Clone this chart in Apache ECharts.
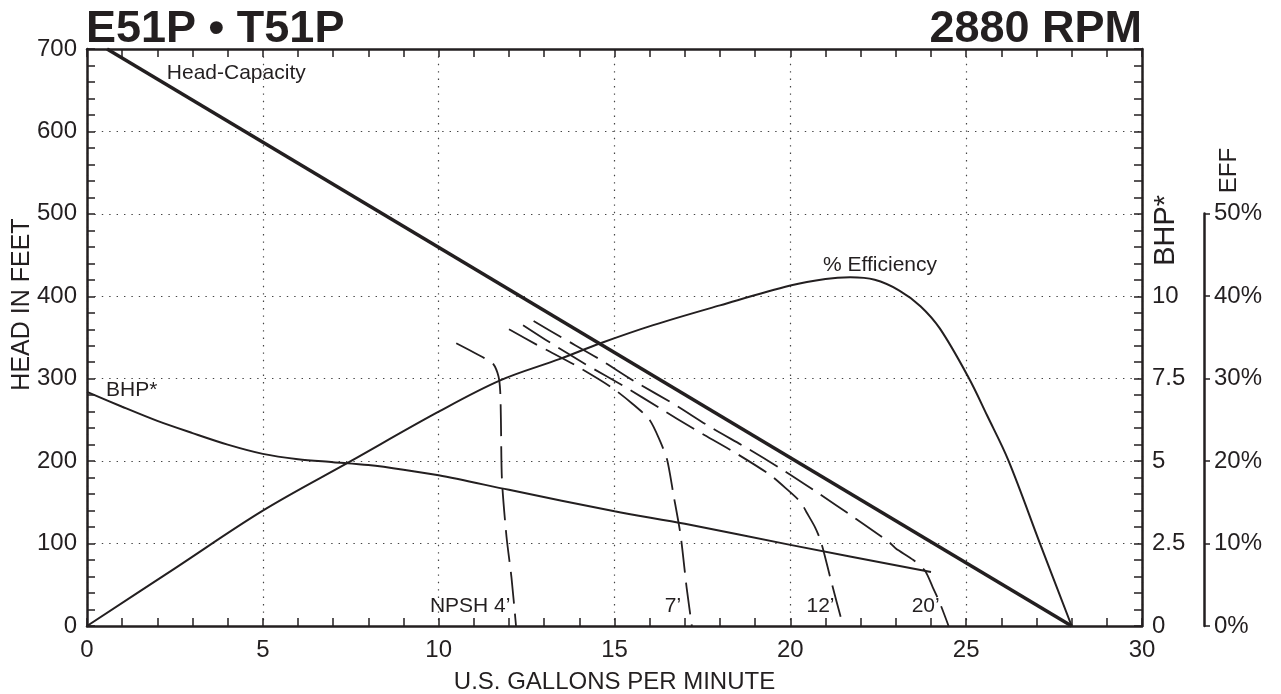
<!DOCTYPE html>
<html><head><meta charset="utf-8">
<script src="https://cdn.jsdelivr.net/npm/echarts@6/dist/echarts.min.js"></script>
<style>html,body{margin:0;padding:0;background:#fff}#c{width:1281px;height:694px}</style>
</head><body><div id="c"></div><script>
// ---- data ----
const titleLeft = 'E51P • T51P';
const titleRight = '2880 RPM';
const xLabel = 'U.S. GALLONS PER MINUTE';
const yLabel = 'HEAD IN FEET';
// axis scales
const gpmMax = 30, gpmLabelStep = 5, gpmTickStep = 1;
const headMax = 700, headLabelStep = 100, headTickStep = 20;
const bhpMax = 17.5, bhpLabelStep = 2.5, bhpTickStep = 0.5, bhpMaxLabel = 10;
const effMax = 50, effStep = 10;
// Head-capacity (gpm, ft)
const headCapacity = [[0.57,700],[28,0]];
// Efficiency (gpm, %)
const efficiency = [[0,0],[2.5,7],[5,14],[7.5,20],[10,26],[11.75,29.8],[13.45,32.4],[14.6,34.3],[16.1,36.5],[18,38.9],[20,41.3],[21,42.1],[21.7,42.3],[22.4,42],[23.1,40.7],[23.7,38.8],[24.25,36.1],[25.06,30.2],[25.6,25.5],[26.2,20.1],[27.1,10],[28,0]];
// BHP (gpm, hp)
const bhp = [[0,7.1],[1,6.65],[2,6.22],[3,5.85],[4,5.5],[5,5.22],[6,5.06],[7,4.97],[8,4.88],[9,4.74],[10,4.57],[12,4.13],[15,3.48],[17,3.1],[20,2.46],[24,1.64]];
// NPSH curves (gpm, ft)
const npsh4 = [[10.5,343],[11.3,325],[11.55,318],[11.7,303],[11.75,285],[11.77,250],[11.8,177],[11.93,108],[12.07,59],[12.2,0]];
const npsh7 = [[12,360],[12.8,341],[13.9,316],[14.9,290],[15.5,270],[16.0,250],[16.3,224],[16.5,201],[16.67,161],[16.88,110],[17.05,47],[17.2,0]];
const npsh12 = [[12.4,365],[13.2,343],[14.2,317],[15.3,290],[16.3,264],[17.3,238],[18.4,211],[19.4,184],[19.9,166],[20.3,150],[20.46,138],[20.7,120],[20.84,106],[20.95,90],[21.17,53],[21.5,0]];
const npsh20 = [[12.7,370],[13.5,350],[14.6,323],[15.6,296],[16.7,269],[17.7,242],[18.8,215],[19.8,189],[20.8,161],[21.8,132],[22.8,102],[23.0,94],[23.5,80],[23.83,67],[24.05,47],[24.26,27],[24.5,0]];
// text labels placed at data coordinates (gpm, ft)
const curveLabels = [
  ['Head-Capacity', 2.27, 671],
  ['% Efficiency', 20.93, 438],
  ['BHP*', 0.54, 286],
  ['NPSH 4’', 9.75, 24],
  ['7’', 16.43, 24],
  ['12’', 20.46, 24],
  ['20’', 23.45, 24]
];

// ---- chart ----
const FONT = '"Liberation Sans", Arial, Helvetica, sans-serif';
const INK = '#231f20';
const chart = echarts.init(document.getElementById('c'), null, {renderer:'canvas'});
const dotted = {show:true, lineStyle:{color:'#444', width:1.2, type:[1.4,6]}};
const frame = {show:true, onZero:false, lineStyle:{color:INK, width:2.5}};
const tickIn = {show:true, inside:true, length:8, lineStyle:{color:INK, width:1.5}};
const lbl = {color:INK, fontFamily:FONT, fontSize:24};
const isMult = (v, s) => Math.abs(v / s - Math.round(v / s)) < 1e-6;

function line(data, yIdx, width, dash, smooth){
  return {type:'line', data, xAxisIndex:0, yAxisIndex:yIdx, symbol:'none', smooth:smooth,
    lineStyle:{color:INK, width, type:dash||'solid', cap:'butt'}, silent:true, z:3};
}
const gridMain = {left:87, right:139, top:49, bottom:68, containLabel:false, outerBoundsMode:'none'};

chart.setOption({
  animation:false,
  backgroundColor:'#fff',
  title:[
    {text:titleLeft, left:86, top:7, padding:0, textStyle:{fontFamily:FONT, fontSize:45, fontWeight:'bold', color:INK}},
    {text:titleRight, right:139, top:7, padding:0, textStyle:{fontFamily:FONT, fontSize:45, fontWeight:'bold', color:INK}}
  ],
  grid:[
    gridMain,
    {left:1190, right:77, top:213.6, bottom:68, containLabel:false, outerBoundsMode:'none'},
    Object.assign({}, gridMain)
  ],
  xAxis:[
    {gridIndex:0, type:'value', position:'bottom', min:0, max:gpmMax, interval:gpmTickStep,
      axisLine:frame, axisTick:tickIn, splitLine:{show:false},
      axisLabel:Object.assign({margin:12, formatter:v => isMult(v, gpmLabelStep) ? String(v) : ''}, lbl),
      name:xLabel, nameLocation:'middle', nameGap:44, nameTextStyle:{fontFamily:FONT, fontSize:24, color:INK}},
    {gridIndex:0, type:'value', position:'top', min:0, max:gpmMax, interval:gpmTickStep,
      axisLine:frame, axisTick:tickIn, splitLine:{show:false}, axisLabel:{show:false}},
    {gridIndex:1, type:'value', min:0, max:1, show:false},
    {gridIndex:2, type:'value', min:0, max:gpmMax, interval:gpmLabelStep,
      axisLine:{show:false}, axisTick:{show:false}, axisLabel:{show:false}, splitLine:dotted}
  ],
  yAxis:[
    {gridIndex:0, type:'value', position:'left', min:0, max:headMax, interval:headTickStep,
      axisLine:frame, axisTick:tickIn, splitLine:{show:false},
      axisLabel:Object.assign({margin:10, formatter:v => isMult(v, headLabelStep) ? String(v) : ''}, lbl)},
    {gridIndex:0, type:'value', position:'right', min:0, max:bhpMax, interval:bhpTickStep,
      axisLine:frame, axisTick:tickIn, splitLine:{show:false},
      axisLabel:Object.assign({margin:10, formatter:v => (isMult(v, bhpLabelStep) && v <= bhpMaxLabel) ? String(v) : ''}, lbl)},
    {gridIndex:0, type:'value', min:0, max:70, show:false},
    {gridIndex:1, type:'value', position:'right', min:0, max:effMax, interval:effStep,
      axisLine:frame, axisTick:{show:true, length:6, lineStyle:{color:INK, width:1.5}},
      splitLine:{show:false},
      axisLabel:Object.assign({margin:10, formatter:'{value}%'}, lbl)},
    {gridIndex:2, type:'value', min:0, max:headMax, interval:headLabelStep,
      axisLine:{show:false}, axisTick:{show:false}, axisLabel:{show:false}, splitLine:dotted}
  ],
  series:[
    line(headCapacity, 0, 3.5, 'solid', false),
    line(efficiency, 2, 2, 'solid', 0.35),
    line(bhp, 1, 2, 'solid', 0.3),
    line(npsh4, 0, 1.8, [32,10], 0.25),
    line(npsh7, 0, 1.8, [32,10], 0.25),
    line(npsh12, 0, 1.8, [32,10], 0.25),
    line(npsh20, 0, 1.8, [32,10], 0.25)
  ]
});

const g = curveLabels.map(([t, x, y]) => {
  const p = chart.convertToPixel({xAxisIndex:0, yAxisIndex:0}, [x, y]);
  return {type:'text', x:p[0], y:p[1], z:10, silent:true,
    style:{text:t, fill:INK, font:'21px ' + FONT, textAlign:'left', textVerticalAlign:'middle'}};
});
const pb = chart.convertToPixel({xAxisIndex:0, yAxisIndex:1}, [30, 12]);
g.push({type:'text', x:pb[0] + 24, y:pb[1], rotation:Math.PI/2, z:10, silent:true,
  style:{text:'BHP*', fill:INK, font:'29px ' + FONT, textAlign:'center', textVerticalAlign:'middle'}});
const pe = chart.convertToPixel({xAxisIndex:2, yAxisIndex:3}, [1, effMax]);
g.push({type:'text', x:pe[0] + 25, y:pe[1] - 43, rotation:Math.PI/2, z:10, silent:true,
  style:{text:'EFF', fill:INK, font:'24px ' + FONT, textAlign:'center', textVerticalAlign:'middle'}});
const ph = chart.convertToPixel({xAxisIndex:0, yAxisIndex:0}, [0, 390]);
g.push({type:'text', x:22, y:ph[1], rotation:Math.PI/2, z:10, silent:true,
  style:{text:yLabel, fill:INK, font:'25px ' + FONT, textAlign:'center', textVerticalAlign:'middle'}});
chart.setOption({graphic:g});
</script></body></html>
